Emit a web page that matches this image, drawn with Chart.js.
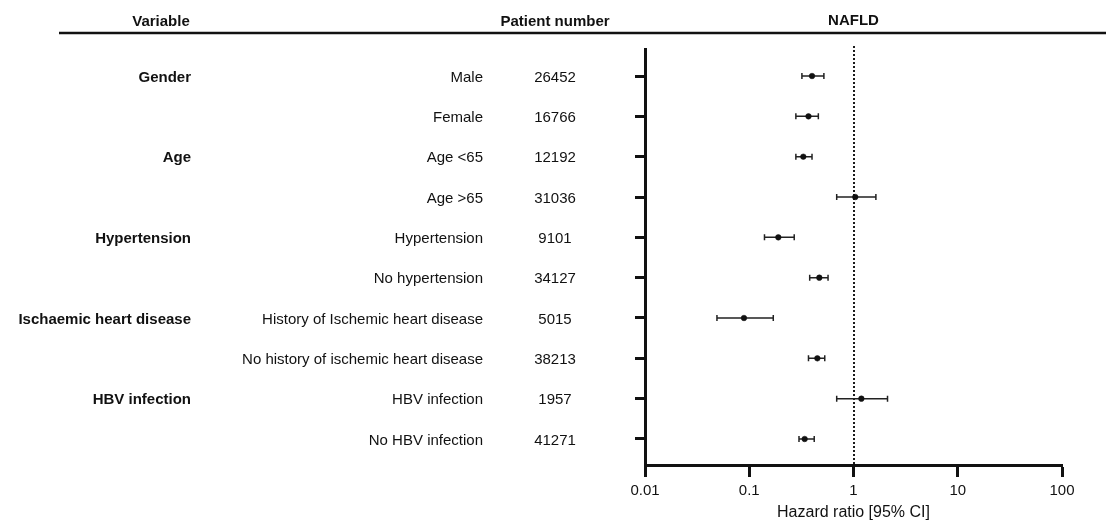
<!DOCTYPE html>
<html>
<head>
<meta charset="utf-8">
<title>NAFLD hazard ratios</title>
<script src="https://cdn.jsdelivr.net/npm/chart.js@4.4.1/dist/chart.umd.min.js"></script>
<style>
  html, body { margin: 0; padding: 0; background: #fff; }
  #wrap { width: 1106px; height: 522px; }
</style>
</head>
<body>
<div id="wrap"><canvas id="forest" width="1106" height="522"></canvas></div>
<script>
// subgroup table
const groups = ["Gender", "", "Age", "", "Hypertension", "", "Ischaemic heart disease", "", "HBV infection", ""];
const subgroups = ["Male", "Female", "Age <65", "Age >65", "Hypertension", "No hypertension",
  "History of Ischemic heart disease", "No history of ischemic heart disease", "HBV infection", "No HBV infection"];
const patients = [26452, 16766, 12192, 31036, 9101, 34127, 5015, 38213, 1957, 41271];

// hazard ratio with 95% CI
const hr    = [0.40, 0.37, 0.33, 1.04, 0.19, 0.47, 0.089, 0.45, 1.19, 0.34];
const ciLow = [0.32, 0.28, 0.28, 0.69, 0.14, 0.38, 0.049, 0.37, 0.69, 0.30];
const ciHigh= [0.52, 0.46, 0.40, 1.64, 0.27, 0.57, 0.17, 0.53, 2.12, 0.42];

const xTicks = [0.01, 0.1, 1, 10, 100];
const rows = subgroups.map((_, i) => i + 1);

const INK = "#111";
const FONT = "'Liberation Sans', Arial, Helvetica, sans-serif";

const forestPlugin = {
  id: "forest",
  beforeDatasetsDraw(chart) {
    const { ctx, chartArea, scales: { x, y } } = chart;
    ctx.save();
    // line of no effect, snapped to whole pixels so the dots stay crisp
    const x1 = Math.round(x.getPixelForValue(1));
    ctx.strokeStyle = "#1a1a1a";
    ctx.lineWidth = 2;
    ctx.setLineDash([2, 2]);
    ctx.beginPath();
    ctx.moveTo(x1, chartArea.top - 3);
    ctx.lineTo(x1, chartArea.bottom);
    ctx.stroke();
    ctx.setLineDash([]);

    // confidence intervals
    ctx.strokeStyle = "#222";
    ctx.lineWidth = 1.5;
    rows.forEach((r, i) => {
      const py = y.getPixelForValue(r);
      const a = x.getPixelForValue(ciLow[i]);
      const b = x.getPixelForValue(ciHigh[i]);
      ctx.beginPath();
      ctx.moveTo(a, py); ctx.lineTo(b, py);
      ctx.moveTo(a, py - 3); ctx.lineTo(a, py + 3);
      ctx.moveTo(b, py - 3); ctx.lineTo(b, py + 3);
      ctx.stroke();
    });
    ctx.restore();
  },
  afterDraw(chart) {
    const { ctx, chartArea, scales: { y } } = chart;
    ctx.save();
    ctx.fillStyle = INK;
    ctx.textBaseline = "middle";

    // header row and rule
    ctx.font = "bold 15px " + FONT;
    ctx.textAlign = "center";
    ctx.fillText("Variable", 161, 21.5);
    ctx.fillText("Patient number", 555, 21.5);
    ctx.fillText("NAFLD", (chartArea.left + chartArea.right) / 2, 20.5);
    ctx.strokeStyle = INK;
    ctx.lineWidth = 2.5;
    ctx.beginPath();
    ctx.moveTo(59, 33);
    ctx.lineTo(chart.width, 33);
    ctx.stroke();

    // table columns
    rows.forEach((r, i) => {
      const py = y.getPixelForValue(r) + 1.5;
      if (groups[i]) {
        ctx.font = "bold 15px " + FONT;
        ctx.textAlign = "right";
        ctx.fillText(groups[i], 191, py);
      }
      ctx.font = "15px " + FONT;
      ctx.textAlign = "right";
      ctx.fillText(subgroups[i], 483, py);
      ctx.textAlign = "center";
      ctx.fillText(String(patients[i]), 555, py);
    });
    ctx.restore();
  }
};

new Chart(document.getElementById("forest"), {
  type: "scatter",
  data: {
    datasets: [{
      data: hr.map((v, i) => ({ x: v, y: rows[i] })),
      pointRadius: 2.8,
      pointBackgroundColor: INK,
      pointBorderColor: INK,
      pointBorderWidth: 0.5
    }]
  },
  options: {
    responsive: false,
    animation: false,
    layout: { padding: { top: 49, right: 44, left: 0, bottom: 0 } },
    plugins: { legend: { display: false }, tooltip: { enabled: false } },
    scales: {
      x: {
        type: "logarithmic",
        position: "bottom",
        min: 0.01,
        max: 100,
        afterBuildTicks: s => { s.ticks = xTicks.map(v => ({ value: v })); },
        afterFit: s => { s.height = 57; },
        ticks: {
          color: INK,
          font: { family: FONT, size: 15 },
          padding: 5,
          autoSkip: false,
          maxRotation: 0,
          callback: v => String(v)
        },
        grid: { drawOnChartArea: false, drawTicks: true, tickLength: 12, tickWidth: 3, tickColor: INK },
        border: { color: INK, width: 3 },
        title: {
          display: true,
          text: "Hazard ratio [95% CI]",
          color: INK,
          font: { family: FONT, size: 16 },
          padding: { top: 0, bottom: 0 }
        }
      },
      y: {
        type: "linear",
        reverse: true,
        min: 0.33,
        max: 10.645,
        afterBuildTicks: s => { s.ticks = rows.map(v => ({ value: v })); },
        afterFit: s => { s.width = 645; },
        ticks: { display: false },
        grid: { drawOnChartArea: false, drawTicks: true, tickLength: 10, tickWidth: 3, tickColor: INK },
        border: { color: INK, width: 3 }
      }
    }
  },
  plugins: [forestPlugin]
});
</script>
</body>
</html>
